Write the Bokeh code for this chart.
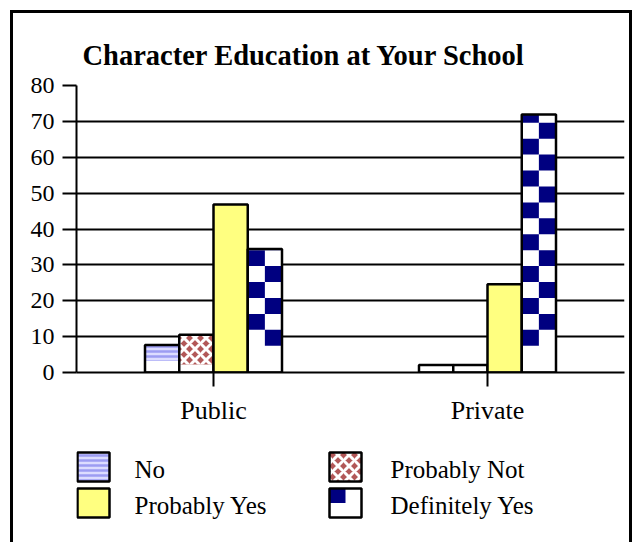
from bokeh.plotting import figure
from bokeh.layouts import column
from bokeh.models import ColumnDataSource, FactorRange, Range1d, FixedTicker
from bokeh.core.properties import value
from bokeh.transform import dodge
from bokeh.embed import file_html
from bokeh.resources import INLINE

# ---- data -------------------------------------------------------------
schools = ["Public", "Private"]
answers = ["No", "Probably Not", "Probably Yes", "Definitely Yes"]
no_pct = [7.7, 2.1]
probably_not_pct = [10.5, 2.1]
probably_yes_pct = [46.8, 24.6]
definitely_yes_pct = [34.4, 71.9]
y_ticks = [0, 10, 20, 30, 40, 50, 60, 70, 80]

# ---- styling ----------------------------------------------------------
SERIF = "Liberation Serif"
NAVY = "#000080"
YELLOW = "#ffff80"
LAVENDER = "#dcdcff"
LAVENDER_LINE = "#9c9cf2"
BRICK = "#b25858"
BAR_W = 0.125
OFFSETS = [-0.1875, -0.0625, 0.0625, 0.1875]
OUTLINE_W = 2.5
CHART_W = 616
CHART_H = 414
KEY_H = 115
BORDER_L, BORDER_R = 63, 5
FRAME_W = CHART_W - BORDER_L - BORDER_R

# texture fills start a little above the baseline, as in old spreadsheet prints
STRIPE_FLOOR = 3.3
DIAMOND_FLOOR = 2.2
CHECK_FLOOR = 7.46
CHECK_STEP = 4.44
check_start = {"Public": 1, "Private": 0}

src = ColumnDataSource(dict(
    school=schools,
    no=no_pct,
    no_tex=[max(v, STRIPE_FLOOR) for v in no_pct],
    pn=probably_not_pct,
    pn_tex=[max(v, DIAMOND_FLOOR) for v in probably_not_pct],
    py=probably_yes_pct,
    dy=definitely_yes_pct,
))

# checkerboard cells for "Definitely Yes"
left_cells = dict(school=[], bottom=[], top=[])
right_cells = dict(school=[], bottom=[], top=[])
for school, v in zip(schools, definitely_yes_pct):
    k = 0
    y0 = CHECK_FLOOR
    while y0 < v:
        y1 = min(y0 + CHECK_STEP, v)
        dest = right_cells if (k + check_start[school]) % 2 else left_cells
        dest["school"].append(school)
        dest["bottom"].append(y0)
        dest["top"].append(y1)
        k += 1
        y0 = CHECK_FLOOR + k * CHECK_STEP

# ---- chart ------------------------------------------------------------
p = figure(
    x_range=FactorRange(factors=schools, range_padding=0),
    y_range=Range1d(0, 80),
    width=CHART_W, height=CHART_H,
    min_border_left=BORDER_L, min_border_right=BORDER_R,
    min_border_top=72, min_border_bottom=55,
    title="Character Education at Your School",
    output_backend="svg", toolbar_location=None,
)
p.outline_line_color = None
p.background_fill_color = "white"
p.border_fill_color = "white"

p.title.text_font = SERIF
p.title.text_font_size = "28.5px"
p.title.text_font_style = "bold"
p.title.text_color = "black"
p.title.align = "left"
p.title.offset = 6
p.title.standoff = 29

# y axis and grid
p.yaxis.ticker = FixedTicker(ticks=y_ticks)
p.yaxis.major_tick_out = 14
p.yaxis.major_tick_in = 0
p.yaxis.minor_tick_line_color = None
p.yaxis.axis_line_width = 2
p.yaxis.major_tick_line_width = 2
p.yaxis.major_label_text_font = SERIF
p.yaxis.major_label_text_font_size = "24px"
p.yaxis.major_label_text_color = "black"
p.yaxis.major_label_standoff = 8
p.ygrid.grid_line_color = "black"
p.ygrid.grid_line_width = 2
p.xgrid.visible = False

# x axis
p.xaxis.axis_line_width = 2
p.xaxis.major_tick_out = 14
p.xaxis.major_tick_in = 0
p.xaxis.major_tick_line_width = 2
p.xaxis.major_label_text_font = SERIF
p.xaxis.major_label_text_font_size = "26px"
p.xaxis.major_label_text_color = "black"
p.xaxis.major_label_standoff = 9


def xpos(off):
    return dodge("school", off, range=p.x_range)


# No: lavender stripes
p.vbar(x=xpos(OFFSETS[0]), top="no", width=BAR_W, source=src,
       fill_color="white", line_color=None)
p.vbar(x=xpos(OFFSETS[0]), bottom=STRIPE_FLOOR, top="no_tex", width=BAR_W,
       source=src, fill_color=LAVENDER, line_color=None,
       hatch_pattern="horizontal_line", hatch_color=LAVENDER_LINE,
       hatch_weight=2.5, hatch_scale=5)
p.vbar(x=xpos(OFFSETS[0]), top="no", width=BAR_W, source=src,
       fill_color=None, line_color="black", line_width=OUTLINE_W)

# Probably Not: brick diamonds
p.vbar(x=xpos(OFFSETS[1]), top="pn", width=BAR_W, source=src,
       fill_color="white", line_color=None)
p.vbar(x=xpos(OFFSETS[1]), bottom=DIAMOND_FLOOR, top="pn_tex", width=BAR_W,
       source=src, fill_color=BRICK, line_color=None,
       hatch_pattern="diagonal_cross", hatch_color="white",
       hatch_weight=3, hatch_scale=11)
p.vbar(x=xpos(OFFSETS[1]), top="pn", width=BAR_W, source=src,
       fill_color=None, line_color="black", line_width=OUTLINE_W)

# Probably Yes: solid yellow
p.vbar(x=xpos(OFFSETS[2]), top="py", width=BAR_W, source=src,
       fill_color=YELLOW, line_color="black", line_width=OUTLINE_W)

# Definitely Yes: navy checkerboard
p.vbar(x=xpos(OFFSETS[3]), top="dy", width=BAR_W, source=src,
       fill_color="white", line_color=None)
p.vbar(x=xpos(OFFSETS[3] - BAR_W / 4), bottom="bottom", top="top", width=BAR_W / 2,
       source=ColumnDataSource(left_cells), fill_color=NAVY, line_color=None)
p.vbar(x=xpos(OFFSETS[3] + BAR_W / 4), bottom="bottom", top="top", width=BAR_W / 2,
       source=ColumnDataSource(right_cells), fill_color=NAVY, line_color=None)
p.vbar(x=xpos(OFFSETS[3]), top="dy", width=BAR_W, source=src,
       fill_color=None, line_color="black", line_width=OUTLINE_W)

# ---- key: 2 x 2 grid of swatches under the chart -----------------------
# positions are in pixels measured from the left edge of the plot frame
SW_W, SW_H = 32, 29
COL_X = [1, 253]        # swatch left edge per key column
LABEL_X = [58, 314]     # label start per key column
ROW_Y = [25, 61]        # swatch top edge per key row

key_fill = [LAVENDER, BRICK, YELLOW, "white"]
key_hatch = ["horizontal_line", "diagonal_cross", "blank", "blank"]
key_hatch_color = [LAVENDER_LINE, "white", "white", "white"]
key_hatch_weight = [2.5, 3, 1, 1]
key_hatch_scale = [5, 11, 1, 1]

rows = [i // 2 for i in range(len(answers))]
cols = [i % 2 for i in range(len(answers))]
sw_left = [COL_X[c] for c in cols]
sw_top = [ROW_Y[r] for r in rows]
key_src = ColumnDataSource(dict(
    label=answers,
    left=sw_left,
    right=[x + SW_W for x in sw_left],
    top=sw_top,
    bottom=[y + SW_H for y in sw_top],
    text_x=[LABEL_X[c] for c in cols],
    text_y=[y + SW_H / 2 + 2 for y in sw_top],
    fill=key_fill,
    hatch=key_hatch,
    hatch_color=key_hatch_color,
    hatch_weight=key_hatch_weight,
    hatch_scale=key_hatch_scale,
))

k = figure(
    x_range=Range1d(0, FRAME_W), y_range=Range1d(KEY_H, 0),
    width=CHART_W, height=KEY_H,
    min_border_left=BORDER_L, min_border_right=BORDER_R,
    min_border_top=0, min_border_bottom=0,
    x_axis_location=None, y_axis_location=None,
    output_backend="svg", toolbar_location=None,
)
k.grid.visible = False
k.outline_line_color = None
k.background_fill_color = "white"
k.border_fill_color = "white"

k.quad(left="left", right="right", top="top", bottom="bottom", source=key_src,
       fill_color="fill", line_color=None,
       hatch_pattern="hatch", hatch_color="hatch_color",
       hatch_weight="hatch_weight", hatch_scale="hatch_scale")
# navy corner of the checkerboard swatch
dy_i = answers.index("Definitely Yes")
k.quad(left=[sw_left[dy_i]], right=[sw_left[dy_i] + SW_W / 2],
       top=[sw_top[dy_i]], bottom=[sw_top[dy_i] + SW_H / 2],
       fill_color=NAVY, line_color=None)
k.quad(left="left", right="right", top="top", bottom="bottom", source=key_src,
       fill_color=None, line_color="black", line_width=OUTLINE_W)
k.text(x="text_x", y="text_y", text="label", source=key_src,
       text_font=value(SERIF), text_font_size=value("25px"),
       text_color="black", text_baseline="middle", text_align="left")

layout = column(p, k, spacing=0)
layout.styles = {
    "margin-left": "10px", "margin-top": "10px",
    "border-left": "3px solid black",
    "border-top": "3px solid black",
    "border-right": "3px solid black",
}

open("out.html", "w").write(file_html(layout, INLINE))
